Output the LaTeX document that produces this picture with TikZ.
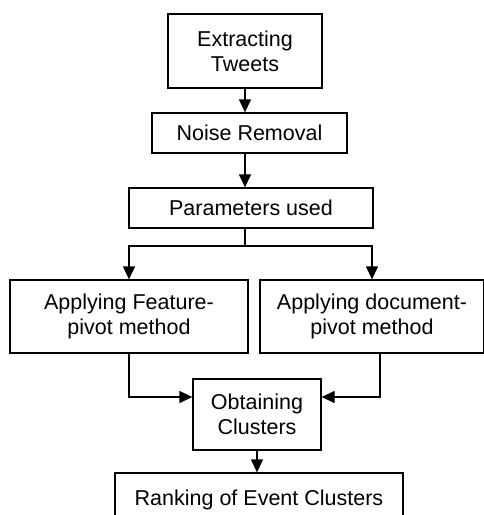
\documentclass[tikz,border=0pt]{standalone}
\usepackage{fontspec}
\setmainfont{Liberation Sans}
\usetikzlibrary{arrows.meta,calc}

\tikzset{
  stepbox/.style={draw, line width=1.3pt, align=center, inner sep=0pt,
    font=\fontsize{21.5}{25}\selectfont},
  arr/.style={line width=1.3pt, -{Triangle[length=13pt,width=12pt]}},
  link/.style={line width=1.3pt}
}

\begin{document}
\begin{tikzpicture}[x=1pt, y=-1pt]
    \useasboundingbox (0,0) rectangle (483,515);
    % Boxes
    \node[stepbox, minimum width=154pt, minimum height=74pt] (extract) at (245,51) {Extracting\\Tweets};
    \node[stepbox, minimum width=195pt, minimum height=40pt] (noise) at (249.5,133) {Noise Removal};
    \node[stepbox, minimum width=244pt, minimum height=40pt] (params) at (251,208) {Parameters used};
    \node[stepbox, minimum width=238pt, minimum height=73pt] (feature) at (129,316.5) {Applying Feature-\\pivot method};
    \node[stepbox, minimum width=224pt, minimum height=73pt] (document) at (372,316.5) {Applying document-\\pivot method};
    \node[stepbox, minimum width=128pt, minimum height=71pt] (obtain) at (257,414.5) {Obtaining\\Clusters};
    \node[stepbox, minimum width=288pt, minimum height=54pt] (ranking) at (259,500) {Ranking of Event Clusters};
    % Helper points
    \coordinate (split) at (245,246);
    \coordinate (join) at (0,397);
    % Connectors
    \draw[arr] (extract.south -| split) -- (noise.north -| split);
    \draw[arr] (noise.south -| split) -- (params.north -| split);
    \draw[link] (params.south -| split) -- (split);
    \draw[arr] (split) -| (feature.north);
    \draw[arr] (split) -| (document.north);
    \draw[arr] (feature.south) |- (obtain.west |- join);
    \draw[arr] ([xshift=8pt]document.south) |- (obtain.east |- join);
    \draw[arr] (obtain.south) -- (obtain.south |- ranking.north);
\end{tikzpicture}
\end{document}
